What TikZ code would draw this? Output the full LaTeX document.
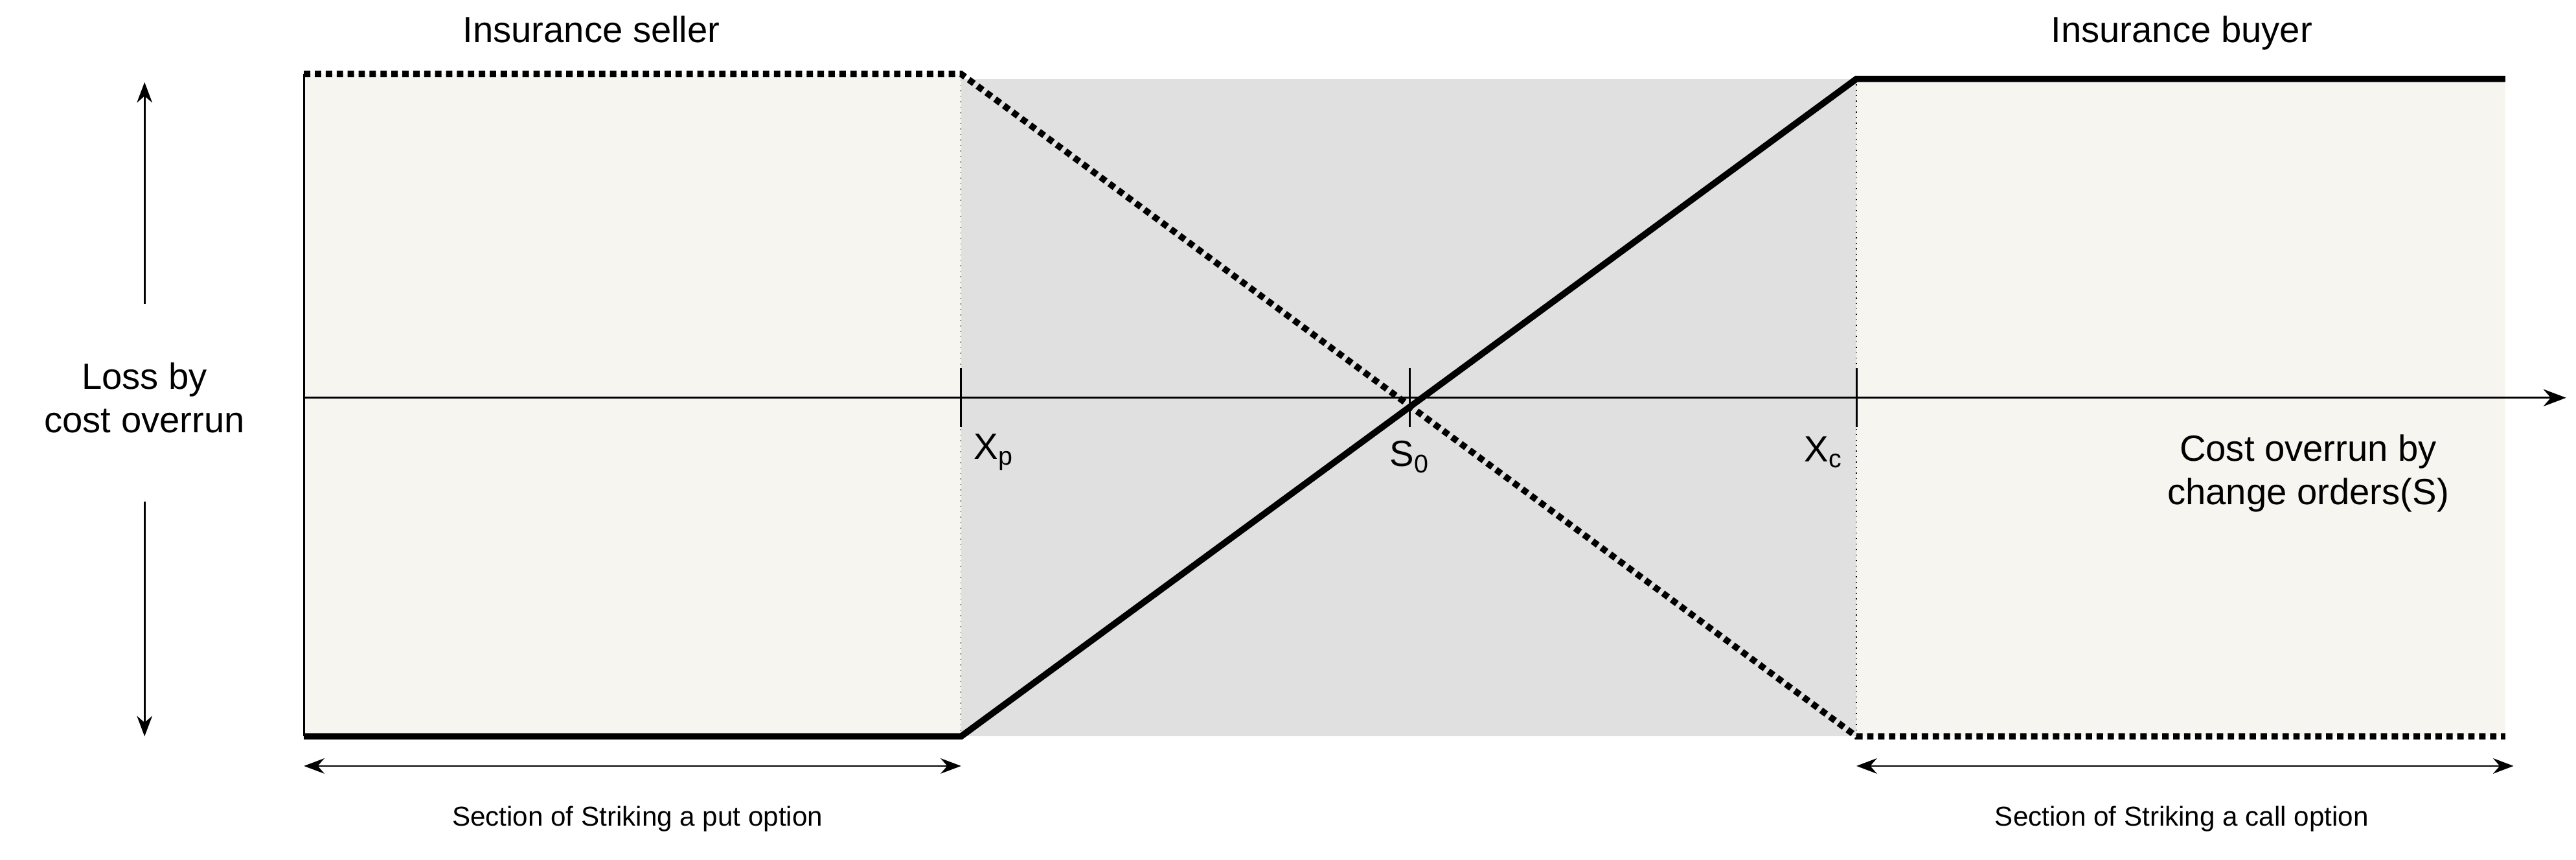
\documentclass[tikz,border=0pt]{standalone}
\usepackage{fontspec}
\setmainfont{Liberation Sans}
\usetikzlibrary{arrows.meta}
\definecolor{sidefill}{HTML}{F7F5F0}
\definecolor{midfill}{HTML}{E0E0E0}
\tikzset{
	payoff/.style={line width=2.8pt},
	payoffdot/.style={line width=2.8pt, dotted},
	guide/.style={thin, dotted},
	span/.style={thick, {Stealth[length=9pt]}-{Stealth[length=9pt]}},
	label/.style={font=\fontsize{16}{19}\selectfont, align=center},
	small/.style={font=\fontsize{12}{14}\selectfont}
}
\begin{document}
\begin{tikzpicture}[x=0.02536cm, y=-0.02536cm]
	\useasboundingbox (0,0) rectangle (1568,523);
	% regions
	\fill[sidefill] (185,45) rectangle (585,448);
	\fill[midfill] (585,48) rectangle (1130,448);
	\fill[sidefill] (1130,48) rectangle (1525,448);
	
	\coordinate (tl) at (185,45);
	\coordinate (bl) at (185,448);
	\coordinate (pt) at (585,45);
	\coordinate (pb) at (585,448);
	\coordinate (ct) at (1130,48);
	\coordinate (cb) at (1130,448);
	\coordinate (rt) at (1525,48);
	\coordinate (rb) at (1525,448);
	\coordinate (ax0) at (185,242);
	\coordinate (ax1) at (1562,242);
	
	\draw[thick] (tl)--(bl);
	\draw[guide] (pt)--(pb);
	\draw[guide] (ct)--(cb);
	\draw[thick,-{Stealth[length=10pt]}] (ax0)--(ax1);
	
	% ticks
	\foreach \x in {585,858,1130}
		\draw[thick] (\x,224)--(\x,260);
	
	% payoffs
	\draw[payoffdot] (tl)--(pt)--(cb)--(rb);
	\draw[payoff] (bl)--(pb)--(ct)--(rt);
	
	% loss axis
	\node[label] (loss) at (88,242) {Loss by\\cost overrun};
	\coordinate (lu) at (88,50);
	\coordinate (ld) at (88,448);
	\draw[thick,-{Stealth[length=9pt]}] (88,185)--(lu);
	\draw[thick,-{Stealth[length=9pt]}] (88,305)--(ld);
	
	% labels
	\node[label] (seller) at (360,18) {Insurance seller};
	\node[label] (buyer) at (1328,20) {Insurance buyer};
	\node[label] (xp) at (605,275) {X\textsubscript{p}};
	\node[label] (s0) at (858,278) {S\textsubscript{0}};
	\node[label] (xc) at (1110,275) {X\textsubscript{c}};
	\node[label] (cost) at (1405,288) {Cost overrun by\\change orders(S)};
	
	% sections
	\coordinate (pl) at (185,466);
	\coordinate (pr) at (585,466);
	\coordinate (cl) at (1130,466);
	\coordinate (cr) at (1530,466);
	\draw[span] (pl)--(pr);
	\draw[span] (cl)--(cr);
	\node[small] (put) at (388,498) {Section of Striking a put option};
	\node[small] (call) at (1328,498) {Section of Striking a call option};
\end{tikzpicture}
\end{document}
